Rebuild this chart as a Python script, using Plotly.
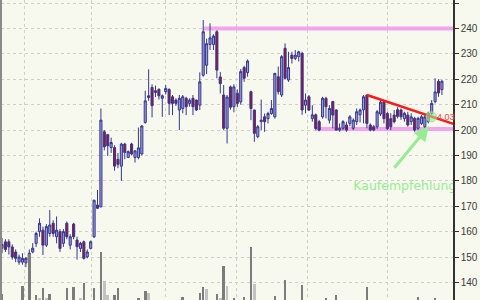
import plotly.graph_objects as go

# ---------------- data ----------------
opens = [153.5,156,156,154,152,148,148,147.7,149,152,155.4,160,160.6,154.7,159.3,163.3,158,160,155.4,163.3,
         154.7,163,156.7,153.4,156,150.1,153.4,158,170.5,169.8,199.3,198.2,193.1,193.1,188.5,185.8,194.5,189.2,194.5,189.2,
         189.2,190.6,203,212.8,216.8,214.8,216,212.5,215.1,216,213.1,211.8,207.9,208.5,212.5,210.5,212.5,211.8,209.8,221.6,
         225.5,233.7,233.7,238.7,220.9,213.8,200.7,217,209.2,214.5,211.1,224.6,222.6,215.1,207.9,197.4,203.3,205.2,204.5,206.5,
         205.2,221,213.8,232.2,219.7,229.5,228.2,228.9,230.2,209.8,213.1,204.5,206,203.3,205.2,212.5,203.9,211.2,207.9,200,
         200.7,202,202.6,200.7,203.3,206,207.9,213.8,202,201.3,201.3,206.3,211,206.5,204.5,205.9,208,207.9,204.5,205.9,
         203.3,204.6,200.7,202.6,201.3,203.3,206.6,211.2,219.2,215.9]
highs = [157.5,157,157,155,153,151,151.5,150,153,155.5,160,165.2,162,163,168.5,164.5,166,161,161,164,
         159,163.5,158,156,156.5,153,156.5,172.5,176.4,208.5,200,198.5,197,194,191,195,195,192,195,192,
         201,202,215.5,223.9,218,217.5,216.5,214,217.7,216.4,213.8,212.5,213.8,213.8,213.1,212.5,213.8,212,222.7,243.3,
         236,242,237.7,239.3,222.8,217.7,213.8,217.5,218,216,224,225.3,227.8,215.5,208,202,212,206.5,207.2,211.8,
         222.5,225,229.5,234.1,230.8,230.8,231.5,231.2,230.8,214.4,213.8,209.8,206.5,204,213.1,213.1,209.8,211.5,208.2,202.6,
         203.9,203.3,205.9,204.6,208.5,208.5,213.8,214,202.6,202,207.9,211.8,211.8,207.2,206.6,207.9,209,208.5,207.2,207.2,
         206.6,205.2,205.2,205.9,205.9,207.2,211.8,220.4,220,219.8]
lows = [151.5,152,151,149,148,147,147,146,148,151.5,154,158,150.8,154,158,158,155.4,152,154,157,
        153,157,149,152,149,149.5,153,157.5,169,169.5,192,189.8,191,184,185,180,188.5,189,190,187.2,
        188.5,190,202.5,211.5,205,213,212,205.2,214,205.9,205.9,209.5,200,206.6,205.9,209.2,205.9,207.5,207.9,221,
        222,231.5,231.5,220.4,214.4,200,194.7,208,207,209,210,219,221,203.9,195.4,196.8,200,199.3,202.6,206,
        204.5,214,213,220,219,226.2,227.5,227,206,206.6,207.5,203.3,200,199.5,204.5,204.6,202.6,200.7,199.8,199.3,
        200,199.3,201.5,200,202,203,202.6,200.7,199.5,199.5,200.5,205.5,202.6,200,200,202.6,204.6,204,203.3,201.3,
        202,199.3,200,202,200.7,202.6,205.9,210.5,213.1,213.8]
closes = [155,153,154,150,149.5,150,149.5,149.5,151.5,153.5,159.3,163.3,154.7,162,162.6,159.3,160.6,153.4,160,158,
          158,158,154.1,155.4,149.5,152,156,172.4,169.2,203.9,193.4,193.8,195.1,185.8,186.5,194.5,191.2,191.5,190.6,191.8,
          193,201.6,211.5,213.5,209.6,215.5,213.5,213.5,216.4,210.5,210.5,210.5,212.5,213.1,209.2,211.8,209.2,207.9,219,238.7,
          234,236.3,237,223.6,218.3,200.7,213,209,217,210.5,223,220.4,227.2,208.5,198.7,201.3,203.9,203.3,206.5,208.5,
          222.3,215.1,228.9,220.4,224.6,228.2,229.5,230.8,207.9,211.8,207.9,206,200.6,200,212.5,209.2,208.5,205.9,200,200.7,
          203.3,200,205.2,203.9,207.2,207.9,213.1,202.6,200,200,207.2,211,204.5,200.6,201.3,203.3,205.4,205.2,206.6,202,
          205.2,200,204.6,205.2,205.2,206.6,210.5,215,214.6,219.2]
volume = [63,35,28,40,33,25,78,38,142,45,60,54,74,54,62,30,41,36,27,74,
          44,76,39,54,84,31,46,74,43,146,88,60,37,60,74,48,33,29,41,35,
          54,47,68,64,45,32,38,27,34,42,30,26,44,56,31,24,36,40,64,76,
          72,45,37,62,54,118,78,43,54,39,46,56,41,156,82,47,33,29,36,44,
          58,45,48,90,42,31,28,39,80,43,35,27,40,33,46,54,30,41,60,26,
          32,23,35,29,37,44,47,76,38,25,31,42,36,28,34,22,30,41,27,33,
          24,45,57,35,29,43,48,54,46,39]
light_volume_days = [11, 13, 23, 30, 31, 43, 60, 64, 66, 74]
month_breaks = [6.7, 26.2, 47.8, 68.9, 89.7, 112.9]
y_ticks = [140, 150, 160, 170, 180, 190, 200, 210, 220, 230, 240, 250]

support_levels = [240.0, 200.4]
support_start = [59, 92]
trend_x = [107, 132.4]
trend_y = [213.8, 202.4]
signal_x, signal_y = 125.9, 205.2
signal_text = "4.03"
arrow_from = (114.7, 184.6)
arrow_to = (125.2, 201.6)
note_text = "Kaufempfehlung"
note_pos = (103.0, 177.5)

days = list(range(len(closes)))
x_range = [-0.3, 132.25]
y_range = [133.1, 251.2]
vol_range = [50, 650]

bg = "#F7F9EE"
fig = go.Figure()

vol_colors = ["#C2C2C2" if d in light_volume_days else "#7C7C7C" for d in days]
fig.add_trace(go.Bar(x=days, y=volume, yaxis="y2", marker=dict(color=vol_colors, line=dict(width=0)),
                     width=0.75, showlegend=False, hoverinfo="skip"))

fig.add_trace(go.Candlestick(
    x=days, open=opens, high=highs, low=lows, close=closes,
    increasing=dict(line=dict(color="#36368F", width=1), fillcolor="#9C9CDA"),
    decreasing=dict(line=dict(color="#36368F", width=1), fillcolor="#981436"),
    whiskerwidth=0, showlegend=False, hoverinfo="skip"))

fig.add_annotation(x=signal_x + 1.0, y=signal_y, xref="x", yref="y", text=signal_text, showarrow=False,
                   xanchor="left", yanchor="middle", font=dict(color="#F04848", size=9, family="Liberation Sans, Arial"))

shapes = []
for lvl, st in zip(support_levels, support_start):
    shapes.append(dict(type="line", xref="x", yref="y", x0=st, x1=x_range[1] + 2, y0=lvl, y1=lvl,
                       line=dict(color="#F2A4EE", width=4), layer="between"))
shapes.append(dict(type="line", xref="x", yref="y", x0=trend_x[0], x1=trend_x[1], y0=trend_y[0], y1=trend_y[1],
                   line=dict(color="#FF1A1A", width=2.5), layer="above"))
shapes.append(dict(type="circle", xref="x", yref="y", x0=signal_x - 1.5, x1=signal_x + 1.5,
                   y0=signal_y - 2.0, y1=signal_y + 2.0,
                   fillcolor="rgba(150,230,140,0.6)", line=dict(color="rgba(150,230,140,0.8)", width=1), layer="above"))
shapes.append(dict(type="line", xref="paper", yref="paper", x0=0, x1=0, y0=0, y1=1,
                   line=dict(color="#8A8A8A", width=2)))

fig.add_trace(go.Scatter(x=[note_pos[0]], y=[note_pos[1]], mode="text", text=[note_text],
                         textposition="middle right", textfont=dict(color="#96EC92", size=12.5, family="DejaVu Sans"),
                         cliponaxis=True, showlegend=False, hoverinfo="skip"))

fig.add_annotation(x=arrow_to[0], y=arrow_to[1], ax=arrow_from[0], ay=arrow_from[1],
                   xref="x", yref="y", axref="x", ayref="y", text="", showarrow=True,
                   arrowhead=2, arrowsize=1, arrowwidth=3, arrowcolor="#96EC92")

fig.update_layout(
    width=480, height=300, margin=dict(l=1, r=27, t=0, b=0, pad=0),
    plot_bgcolor=bg, paper_bgcolor=bg, shapes=shapes, showlegend=False, bargap=0, boxgap=0.12,
    xaxis=dict(range=x_range, rangeslider=dict(visible=False), showticklabels=False, ticks="",
               tickvals=month_breaks, showgrid=True, gridcolor="#CFCFC8", griddash="dot", gridwidth=1,
               zeroline=False, showline=False),
    yaxis=dict(range=y_range, side="right", tickvals=y_ticks, ticks="outside", ticklen=4, tickcolor="#333333",
               showline=True, linecolor="#333333", linewidth=1.5, showgrid=True, gridcolor="#CFCFC8",
               griddash="dot", gridwidth=1, zeroline=False,
               tickfont=dict(family="Liberation Sans, Arial", size=10, color="#3A3A3A")),
    yaxis2=dict(range=vol_range, overlaying="y", visible=False, showgrid=False),
)

fig.write_html("out.html")
